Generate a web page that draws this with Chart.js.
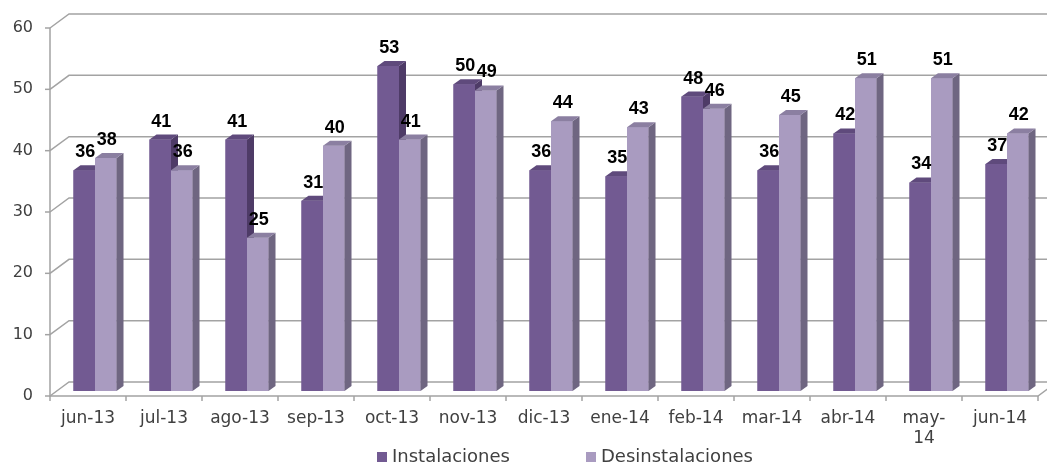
<!DOCTYPE html>
<html>
<head>
<meta charset="utf-8">
<script src="https://cdn.jsdelivr.net/npm/chart.js@4"></script>
<style>
  html, body { margin: 0; padding: 0; background: #fff; }
  #wrap { width: 1047px; height: 465px; position: relative; }
</style>
</head>
<body>
<div id="wrap"><canvas id="chartInst"></canvas></div>
<script>
// months (Excel wraps "may-14" onto two lines)
const months = ['jun-13', 'jul-13', 'ago-13', 'sep-13', 'oct-13', 'nov-13', 'dic-13',
  'ene-14', 'feb-14', 'mar-14', 'abr-14', 'may-14', 'jun-14'];
const instalaciones = [36, 41, 41, 31, 53, 50, 36, 35, 48, 36, 42, 34, 37];
const desinstalaciones = [38, 36, 25, 40, 41, 49, 44, 43, 46, 45, 51, 51, 42];
const yTicks = [0, 10, 20, 30, 40, 50, 60];

// 3d look: depth of a bar, and of the whole floor/back wall
const DX = 7, DY = 5;
const WALL_DX = 19, WALL_DY = 14;
const GRID = '#a3a3a3';
const TEXT = '#404040';

const faces = [
  { front: '#725a92', side: '#4e3b67', top: '#5f4a7c' },
  { front: '#a99bc0', side: '#6f6681', top: '#8b7fa1' }
];

function poly(ctx, pts, color) {
  ctx.beginPath();
  ctx.moveTo(pts[0][0], pts[0][1]);
  for (let i = 1; i < pts.length; i++) ctx.lineTo(pts[i][0], pts[i][1]);
  ctx.closePath();
  ctx.fillStyle = color;
  ctx.fill();
}

// keep the plot area exactly where the layout padding puts it
function noPad(s) {
  s.paddingTop = 0; s.paddingBottom = 0; s.paddingLeft = 0; s.paddingRight = 0;
}

const wallPlugin = {
  id: 'wall',
  beforeDatasetsDraw(chart) {
    const { ctx, scales: { x, y } } = chart;
    const W = chart.width;
    ctx.save();
    ctx.strokeStyle = GRID;
    ctx.lineWidth = 1.5;
    // back wall grid lines with the diagonal from the front axis
    yTicks.forEach(v => {
      const fy = y.getPixelForValue(v) + DY;
      const fx = x.left - DX;
      ctx.beginPath();
      ctx.moveTo(fx, fy);
      ctx.lineTo(fx + WALL_DX, fy - WALL_DY);
      ctx.lineTo(W, fy - WALL_DY);
      ctx.stroke();
      // tick mark on the front axis
      ctx.beginPath();
      ctx.moveTo(fx - 5, fy);
      ctx.lineTo(fx, fy);
      ctx.stroke();
    });
    // front axes
    const x0 = x.left - DX, x1 = x.right - DX;
    const yb = y.getPixelForValue(0) + DY;
    const yt = y.getPixelForValue(60) + DY;
    ctx.beginPath();
    ctx.moveTo(x0, yt);
    ctx.lineTo(x0, yb);
    ctx.lineTo(x1, yb);
    ctx.lineTo(x1 + WALL_DX, yb - WALL_DY);
    ctx.stroke();
    const step = x.width / months.length;
    for (let i = 0; i <= months.length; i++) {
      const tx = x0 + i * step;
      ctx.beginPath();
      ctx.moveTo(tx, yb);
      ctx.lineTo(tx, yb + 5);
      ctx.stroke();
    }
    ctx.restore();
  },
  afterDatasetsDraw(chart) {
    const { ctx } = chart;
    const metas = [chart.getDatasetMeta(0), chart.getDatasetMeta(1)];
    ctx.save();
    for (let i = 0; i < months.length; i++) {
      metas.forEach((meta, d) => {
        const bar = meta.data[i];
        const { x, y, base, width } = bar.getProps(['x', 'y', 'base', 'width'], true);
        const l = x - width / 2, r = x + width / 2;
        const f = faces[d];
        poly(ctx, [[l, y], [r, y], [r, base], [l, base]], f.front);
        poly(ctx, [[r, y], [r + DX, y - DY], [r + DX, base - DY], [r, base]], f.side);
        poly(ctx, [[l, y], [l + DX, y - DY], [r + DX, y - DY], [r, y]], f.top);
      });
    }
    // value labels
    ctx.font = 'bold 18px "Liberation Sans", Arial, sans-serif';
    ctx.fillStyle = '#000';
    ctx.textAlign = 'center';
    ctx.textBaseline = 'alphabetic';
    metas.forEach((meta, d) => {
      meta.data.forEach((bar, i) => {
        const { x, y } = bar.getProps(['x', 'y'], true);
        ctx.fillText(chart.data.datasets[d].data[i], x + 1, y - 13);
      });
    });
    ctx.restore();
  },
  afterDraw(chart) {
    // legend along the bottom
    const { ctx } = chart;
    const items = [{ x: 377 }, { x: 586 }];
    ctx.save();
    ctx.font = '18px "DejaVu Sans", sans-serif';
    ctx.textBaseline = 'alphabetic';
    ctx.textAlign = 'left';
    chart.data.datasets.forEach((ds, d) => {
      const lx = items[d].x;
      ctx.fillStyle = faces[d].front;
      ctx.fillRect(lx, 452, 10, 10);
      ctx.fillStyle = TEXT;
      ctx.fillText(ds.label, lx + 15, 462);
    });
    ctx.restore();
  }
};

new Chart(document.getElementById('chartInst').getContext('2d'), {
  type: 'bar',
  data: {
    labels: months,
    datasets: [
      { label: 'Instalaciones', data: instalaciones, backgroundColor: faces[0].front },
      { label: 'Desinstalaciones', data: desinstalaciones, backgroundColor: faces[1].front }
    ]
  },
  options: {
    responsive: true,
    maintainAspectRatio: false,
    animation: false,
    barPercentage: 1,
    categoryPercentage: 0.566,
    layout: { padding: { top: 23, right: 2, left: 0, bottom: 0 } },
    plugins: { legend: { display: false }, tooltip: { enabled: false } },
    scales: {
      x: {
        grid: { display: false, drawTicks: false },
        border: { display: false },
        afterFit: s => { s.height = 74; noPad(s); },
        ticks: {
          color: TEXT,
          font: { family: 'DejaVu Sans', size: 17 },
          padding: 17,
          labelOffset: -DX,
          maxRotation: 0,
          autoSkip: false,
          callback: (v, i) => months[i] === 'may-14' ? ['may-', '14'] : months[i]
        }
      },
      y: {
        min: 0,
        max: 60,
        grid: { display: false, drawTicks: false },
        border: { display: false },
        afterFit: s => { s.width = 57; noPad(s); },
        ticks: {
          stepSize: 10,
          color: TEXT,
          font: { family: 'DejaVu Sans', size: 16 },
          padding: 24,
          labelOffset: DY
        }
      }
    }
  },
  plugins: [wallPlugin]
});
</script>
</body>
</html>
